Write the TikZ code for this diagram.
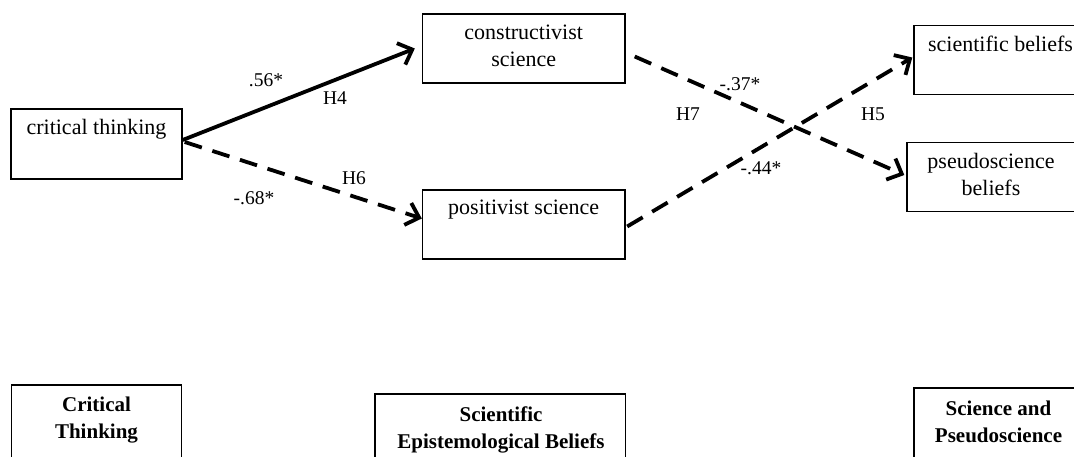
\documentclass[tikz,border=0pt]{standalone}
\usepackage{fontspec}
\setmainfont{Liberation Serif}
\usetikzlibrary{arrows.meta}
\newcommand{\mylines}[1]{\begin{tabular}[t]{@{}c@{}}#1\end{tabular}}
\begin{document}
\begin{tikzpicture}[x=1pt,y=-1pt,
  box/.style={draw, line width=1.4pt, inner sep=0pt},
  txt/.style={inner sep=0pt, anchor=base, font=\fontsize{22}{27}\selectfont},
  btxt/.style={inner sep=0pt, anchor=base, font=\fontsize{21}{27}\selectfont\bfseries},
  lab/.style={inner sep=0pt, font=\fontsize{19.5}{23}\selectfont},
  conn/.style={line width=3.8pt, line cap=butt, -{Straight Barb[length=12pt,width=23pt]}},
  dsh/.style={conn, dash pattern=on 18pt off 11pt}]
\clip (0,0) rectangle (1074,457);
\fill[white] (0,0) rectangle (1074,457);
% boxes
\node[box, minimum width=171pt, minimum height=70pt] (ct) at (96.5,144) {};
\node[box, minimum width=202.5pt, minimum height=69pt] (cs) at (523.75,48.5) {};
\node[box, minimum width=202.5pt, minimum height=69pt] (ps) at (523.75,224.5) {};
\node[box, minimum width=176pt, minimum height=69pt] (sb) at (1002,60) {};
\node[box, minimum width=173pt, minimum height=69pt] (pb) at (993.5,177) {};
\node[box, minimum width=170pt, minimum height=85pt] (CT) at (96.5,427.5) {};
\node[box, minimum width=250.5pt, minimum height=86pt] (SEB) at (500.25,437) {};
\node[box, minimum width=176pt, minimum height=92pt] (SP) at (1002,434) {};
% box texts
\node[txt] (ctT) at (96.5,135) {critical thinking};
\node[txt] (csT) at (523.7,39.5) {\mylines{constructivist\\science}};
\node[txt] (psT) at (523.7,214.5) {positivist science};
\node[txt] (sbT) at (1000.5,51.5) {scientific beliefs};
\node[txt] (pbT) at (991,169) {\mylines{pseudoscience\\beliefs}};
\node[btxt] (CTT) at (96.5,411.5) {\mylines{Critical\\Thinking}};
\node[btxt] (SEBT) at (501,421.5) {\mylines{Scientific\\Epistemological Beliefs}};
\node[btxt] (SPT) at (998.5,415) {\mylines{Science and\\Pseudoscience}};
% connectors
\draw[conn] ([yshift=4pt]ct.east) -- ([xshift=-7pt]cs.west);
\draw[dsh] ([xshift=2pt,yshift=2pt]ct.east) -- ([yshift=6pt]ps.west);
\draw[dsh] ([xshift=9pt,yshift=-8pt]cs.east) -- ([xshift=-2pt,yshift=2pt]pb.west);
\draw[dsh] ([xshift=1.5pt,yshift=-2pt]ps.east) -- ([xshift=-1pt,yshift=2.5pt]sb.west);
% labels
\node[lab] (l1) at (266,80) {.56*};
\node[lab] (l2) at (335,98) {H4};
\node[lab] (l3) at (354,178) {H6};
\node[lab] (l4) at (254,198) {-.68*};
\node[lab] (l5) at (740,84) {-.37*};
\node[lab] (l6) at (688,114) {H7};
\node[lab] (l7) at (873,114) {H5};
\node[lab] (l8) at (761,168) {-.44*};
\end{tikzpicture}
\end{document}
